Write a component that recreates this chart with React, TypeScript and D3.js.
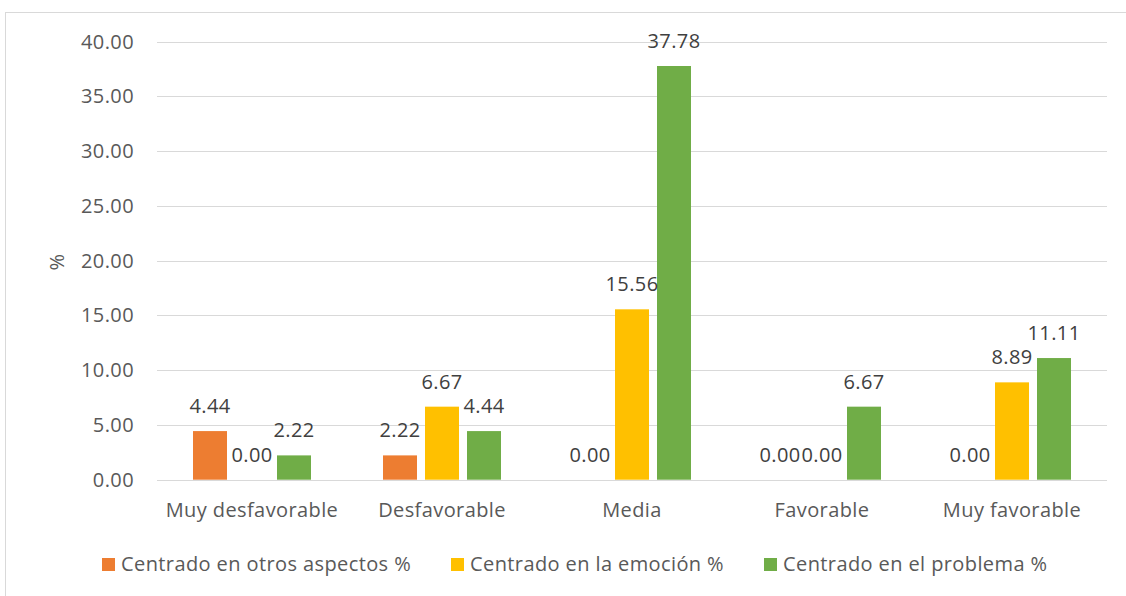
import React from "react";
import * as d3 from "d3";

const categories = ["Muy desfavorable", "Desfavorable", "Media", "Favorable", "Muy favorable"];
const seriesNames = [
  "Centrado en otros aspectos %",
  "Centrado en la emoción %",
  "Centrado en el problema %",
];
const otrosAspectos = [4.44, 2.22, 0.0, 0.0, 0.0];
const emocion = [0.0, 6.67, 15.56, 0.0, 8.89];
const problema = [2.22, 4.44, 37.78, 6.67, 11.11];
const yTicks = [0, 5, 10, 15, 20, 25, 30, 35, 40];
const colors = ["#ED7D31", "#FFC000", "#70AD47"];

const W = 1126;
const H = 596;
const FONT = "'Open Sans', sans-serif";
const FS = 20;
const LS = 0.4;

export default function App() {
  const seriesValues = [otrosAspectos, emocion, problema];
  const plotLeft = 157;
  const plotRight = 1107;
  const y = d3.scaleLinear().domain([0, 40]).range([479.7, 41.7]);
  const x0 = d3.scaleBand<string>().domain(categories).range([plotLeft, plotRight]);
  const x1 = d3
    .scaleBand<string>()
    .domain(seriesNames)
    .range([36, 154])
    .paddingInner(8 / 42);

  const legendX = [102, 451, 764];

  return (
    <svg
      width={W}
      height={H}
      style={{ position: "absolute", left: 0, top: 0, background: "#fff" }}
      fontFamily={FONT}
      letterSpacing={LS}
    >
      {/* chart frame */}
      <rect x={5.5} y={12.5} width={W + 10} height={H + 10} fill="none" stroke="#D9D9D9" />

      {/* gridlines and y ticks */}
      {yTicks.map((t) => (
        <g key={t}>
          <line
            x1={plotLeft}
            x2={plotRight}
            y1={Math.round(y(t)) + 0.5}
            y2={Math.round(y(t)) + 0.5}
            stroke="#D9D9D9"
            strokeWidth={1.2}
          />
          <text
            x={134}
            y={y(t)}
            dy="0.35em"
            textAnchor="end"
            fontSize={FS}
            fill="#595959"
          >
            {t.toFixed(2)}
          </text>
        </g>
      ))}

      {/* y axis title */}
      <text
        transform={`translate(57,262) rotate(-90)`}
        textAnchor="middle"
        dy="0.35em"
        fontSize={FS}
        fill="#595959"
      >
        %
      </text>

      {/* bars */}
      {categories.map((c, ci) => (
        <g key={c} transform={`translate(${x0(c)},0)`}>
          {seriesNames.map((s, si) => {
            const v = seriesValues[si][ci];
            const bx = x1(s)!;
            const bw = x1.bandwidth();
            return (
              <g key={s}>
                {v > 0 && (
                  <rect
                    x={bx}
                    y={y(v)}
                    width={bw}
                    height={y(0) - y(v)}
                    fill={colors[si]}
                  />
                )}
              </g>
            );
          })}
        </g>
      ))}

      {/* data labels */}
      {categories.map((c, ci) => (
        <g key={c} transform={`translate(${x0(c)},0)`}>
          {seriesNames.map((s, si) => {
            const v = seriesValues[si][ci];
            const cx = x1(s)! + x1.bandwidth() / 2;
            return (
              <text
                key={s}
                x={cx}
                y={y(v) - 18}
                textAnchor="middle"
                fontSize={FS}
                fill="#404040"
              >
                {v.toFixed(2)}
              </text>
            );
          })}
        </g>
      ))}

      {/* category labels */}
      {categories.map((c) => (
        <text
          key={c}
          x={x0(c)! + x0.bandwidth() / 2}
          y={517}
          textAnchor="middle"
          fontSize={FS}
          fill="#595959"
        >
          {c}
        </text>
      ))}

      {/* legend */}
      {seriesNames.map((s, i) => (
        <g key={s}>
          <rect x={legendX[i]} y={558} width={13} height={13} fill={colors[i]} />
          <text x={legendX[i] + 19} y={571} fontSize={FS} fill="#595959">
            {s}
          </text>
        </g>
      ))}
    </svg>
  );
}
